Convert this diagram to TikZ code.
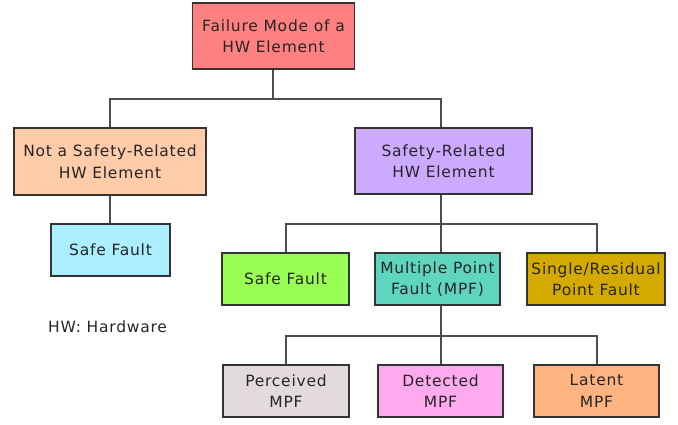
\documentclass[tikz,border=0pt]{standalone}
\usepackage{fontspec}
\setmainfont[LetterSpace=5]{DejaVu Sans}
\begin{document}
\begin{tikzpicture}[x=1pt,y=-1pt,
  box/.style={draw=black!80,line width=1.2pt,inner sep=0pt,align=center,
    font=\fontsize{15.5}{21.5}\selectfont,text=black!85},
  conn/.style={draw=black!70,line width=1.1pt}]
\useasboundingbox (0,0) rectangle (678,424);
\definecolor{cTop}{HTML}{FF8080}
\definecolor{cNot}{HTML}{FFCCAA}
\definecolor{cSafeL}{HTML}{AAEEFF}
\definecolor{cSR}{HTML}{CCAAFF}
\definecolor{cSafeG}{HTML}{99FF55}
\definecolor{cMPF}{HTML}{5FD5BF}
\definecolor{cSingle}{HTML}{D4AA00}
\definecolor{cPerc}{HTML}{E3DBDB}
\definecolor{cDet}{HTML}{FFAAEE}
\definecolor{cLat}{HTML}{FFB380}

\node[box,fill=cTop,minimum width=162,minimum height=66] (top) at (273.5,36) {Failure Mode of a\\HW Element};
\node[box,fill=cNot,minimum width=192,minimum height=67] (not) at (110,161.5) {Not a Safety-Related\\HW Element};
\node[box,fill=cSR,minimum width=177,minimum height=66] (sr) at (443.5,161) {Safety-Related\\HW Element};
\node[box,fill=cSafeL,minimum width=119,minimum height=52] (safeL) at (110.5,250) {Safe Fault};
\node[box,fill=cSafeG,minimum width=127,minimum height=52] (safeG) at (285.5,279) {Safe Fault};
\node[box,fill=cMPF,minimum width=125,minimum height=52] (mpf) at (437.5,279) {Multiple Point\\Fault (MPF)};
\node[box,fill=cSingle,minimum width=138,minimum height=52] (single) at (596,279) {Single/Residual\\Point Fault};
\node[box,fill=cPerc,minimum width=126,minimum height=52] (perc) at (286,391) {Perceived\\MPF};
\node[box,fill=cDet,minimum width=125,minimum height=52] (det) at (440.5,391) {Detected\\MPF};
\node[box,fill=cLat,minimum width=125,minimum height=52] (lat) at (596.5,391) {Latent\\MPF};
\node[font=\fontsize{15.5}{21.5}\selectfont,text=black!85,anchor=west,inner sep=0pt] (hw) at (48,327) {HW: Hardware};

\coordinate (j1) at (273,99);
\coordinate (j2) at (441,224);
\coordinate (j3) at (441,336);
\coordinate (cL2) at (286,224);
\coordinate (cR2) at (597,224);
\coordinate (cL3) at (286,336);
\coordinate (cR3) at (597,336);

\draw[conn] (top.south -| j1) -- (j1);
\draw[conn] (j1) -| (not.north);
\draw[conn] (j1) -| (sr.north -| j2);
\draw[conn] (not.south) -- (safeL.north -| not.south);
\draw[conn] (sr.south -| j2) -- (j2);
\draw[conn] (j2) -- (cL2) -- (safeG.north -| cL2);
\draw[conn] (j2) -- (cR2) -- (single.north -| cR2);
\draw[conn] (j2) -- (mpf.north -| j2);
\draw[conn] (mpf.south -| j3) -- (j3);
\draw[conn] (j3) -- (cL3) -- (perc.north -| cL3);
\draw[conn] (j3) -- (cR3) -- (lat.north -| cR3);
\draw[conn] (j3) -- (det.north -| j3);
\end{tikzpicture}
\end{document}
